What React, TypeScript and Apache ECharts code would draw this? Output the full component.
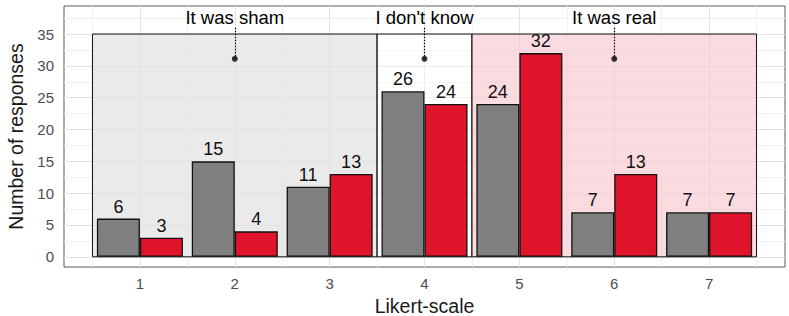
import React, { useEffect, useRef } from "react";
import * as echarts from "echarts";

const categories = [1, 2, 3, 4, 5, 6, 7];
const grayValues = [6, 15, 11, 26, 24, 7, 7];
const redValues = [3, 4, 13, 24, 32, 13, 7];
const yTicks = [0, 5, 10, 15, 20, 25, 30, 35];
const yMinor = [2.5, 7.5, 12.5, 17.5, 22.5, 27.5, 32.5, 37.5];
const xMinor = [0.5, 1.5, 2.5, 3.5, 4.5, 5.5, 6.5, 7.5];
const regions = [
  { from: 0.5, to: 3.5, top: 35, color: "rgba(225,225,225,0.7)" },
  { from: 3.5, to: 4.5, top: 35, color: "rgba(255,255,255,0.4)" },
  { from: 4.5, to: 7.5, top: 35, color: "rgba(248,200,207,0.65)" },
];
const annotations = [
  { x: 2, label: "It was sham" },
  { x: 4, label: "I don't know" },
  { x: 6, label: "It was real" },
];
const annotTextBase = 36.0;
const annotLineTop = 36.0;
const annotDotY = 31.1;

const FONT = "Liberation Sans, Arial, sans-serif";

export default function App() {
  const ref = useRef<HTMLDivElement>(null);
  useEffect(() => {
    if (!ref.current) return;
    const chart = echarts.init(ref.current, null, { renderer: "svg" });
    const gridLines = [
      ...yTicks.map((v) => ({ yAxis: v, lineStyle: { color: "#e3e3e3", width: 1, type: "solid" } })),
      ...yMinor.map((v) => ({ yAxis: v, lineStyle: { color: "#f1f1f1", width: 1, type: "solid" } })),
      ...categories.map((v) => ({ xAxis: v, lineStyle: { color: "#e3e3e3", width: 1, type: "solid" } })),
      ...xMinor.map((v) => ({ xAxis: v, lineStyle: { color: "#f1f1f1", width: 1, type: "solid" } })),
    ];
    chart.setOption({
      animation: false,
      textStyle: { fontFamily: FONT },
      grid: {
        left: 64,
        right: 4,
        top: 6,
        bottom: 49,
        outerBoundsMode: "none",
        containLabel: false,
        show: true,
        backgroundColor: "#ffffff",
        borderColor: "#5a5a5a",
        borderWidth: 1,
      },
      xAxis: {
        type: "value",
        min: 0.2,
        max: 7.8,
        name: "Likert-scale",
        nameLocation: "middle",
        nameGap: 25,
        nameTextStyle: { fontSize: 19.5, color: "#1a1a1a", fontFamily: FONT },
        axisLine: { show: false },
        axisTick: { show: false },
        splitLine: { show: false },
        axisLabel: {
          customValues: categories,
          color: "#4d4d4d",
          fontSize: 15,
          margin: 9,
          fontFamily: FONT,
        },
      },
      yAxis: {
        type: "value",
        min: -1.6,
        max: 39.4,
        name: "Number of responses",
        nameLocation: "middle",
        nameGap: 31,
        nameTextStyle: { fontSize: 19.5, color: "#1a1a1a", fontFamily: FONT },
        axisLine: { show: false },
        axisTick: { show: false },
        splitLine: { show: false },
        axisLabel: {
          customValues: yTicks,
          color: "#4d4d4d",
          fontSize: 15,
          margin: 10,
          fontFamily: FONT,
        },
      },
      series: [
        {
          type: "line",
          data: [],
          silent: true,
          markLine: {
            silent: true,
            z: 0,
            symbol: "none",
            label: { show: false },
            data: gridLines,
          },
          markArea: {
            silent: true,
            z: 1,
            label: { show: false },
            data: regions.map((r) => [
              { xAxis: r.from, yAxis: 0, itemStyle: { color: r.color, borderColor: "#111", borderWidth: 1 } },
              { xAxis: r.to, yAxis: r.top },
            ]),
          },
        },
        {
          type: "bar",
          z: 3,
          barWidth: 43,
          barGap: "0%",
          data: categories.map((c, i) => [c, grayValues[i]]),
          itemStyle: { color: "#7f7f7f", borderColor: "#111", borderWidth: 1.3 },
          label: { show: true, position: "top", distance: 3, fontSize: 18, color: "#111", fontFamily: FONT },
        },
        {
          type: "bar",
          z: 3,
          barWidth: 43,
          barGap: "0%",
          data: categories.map((c, i) => [c, redValues[i]]),
          itemStyle: { color: "#e0142b", borderColor: "#111", borderWidth: 1.3 },
          label: { show: true, position: "top", distance: 3, fontSize: 18, color: "#111", fontFamily: FONT },
        },
        {
          type: "scatter",
          z: 4,
          symbol: "circle",
          symbolSize: 6,
          itemStyle: { color: "#000" },
          data: annotations.map((a) => [a.x, annotDotY]),
          markLine: {
            silent: true,
            symbol: "none",
            label: { show: false },
            lineStyle: { color: "#000", width: 1.2, type: [1.5, 1.5] },
            data: annotations.map((a) => [
              { coord: [a.x, annotLineTop] },
              { coord: [a.x, annotDotY] },
            ]),
          },
        },
        {
          type: "scatter",
          z: 4,
          symbol: "circle",
          symbolSize: 1,
          itemStyle: { color: "rgba(0,0,0,0)" },
          data: annotations.map((a) => ({ value: [a.x, annotTextBase], name: a.label })),
          label: {
            show: true,
            position: "top",
            distance: 0,
            formatter: (p: any) => p.name,
            fontSize: 18.5,
            color: "#000",
            opacity: 1,
            fontFamily: FONT,
          },
        },
      ],
    });
    return () => chart.dispose();
  }, []);
  return <div ref={ref} style={{ width: 789, height: 316, position: "absolute", left: 0, top: 0 }} />;
}
